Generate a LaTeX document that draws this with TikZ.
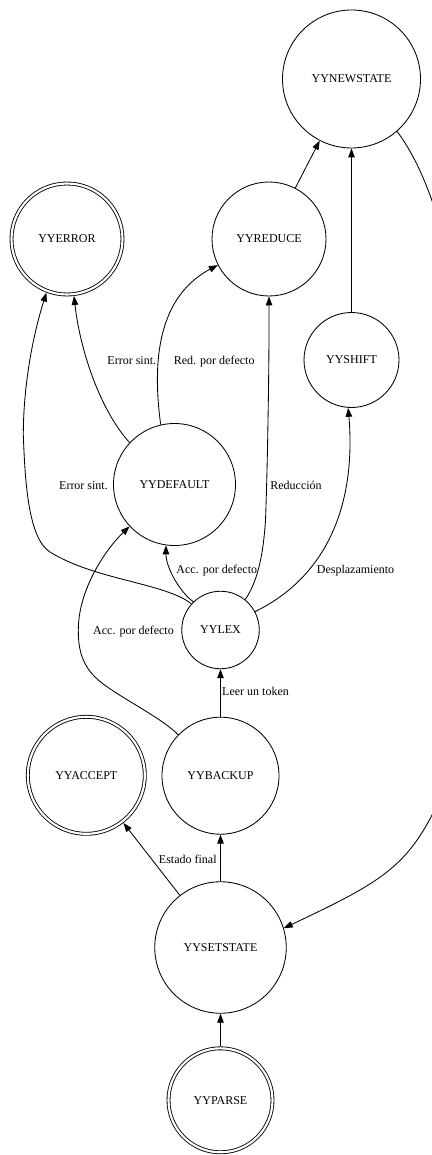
\documentclass[tikz,border=0pt]{standalone}
\usepackage{fontspec}
\setmainfont{Liberation Serif}
\usetikzlibrary{arrows.meta}
\begin{document}
\begin{tikzpicture}[x=1pt,y=-1pt,
  every node/.style={font=\fontsize{12}{14}\selectfont},
  state/.style={circle, draw, line width=0.85pt, inner sep=0pt},
  final/.style={state, double, double distance=2.15pt, outer sep=1.9pt},
  edge/.style={line width=0.85pt, -{Triangle[length=9pt,width=6.5pt]}},
  lbl/.style={anchor=base, inner sep=0pt}]

\path[use as bounding box] (0,0) rectangle (431,1155);

% states
\node[state, minimum size=138pt] (nws) at (351.5,79) {YYNEWSTATE};
\node[final, minimum size=111pt] (err) at (67,239) {YYERROR};
\node[state, minimum size=114pt] (red) at (269,239) {YYREDUCE};
\node[state, minimum size=95pt]  (shf) at (351.5,360) {YYSHIFT};
\node[state, minimum size=122pt] (def) at (174.5,484.5) {YYDEFAULT};
\node[state, minimum size=77.5pt] (lex) at (220.5,630) {YYLEX};
\node[state, minimum size=117pt] (bak) at (220.5,775.7) {YYBACKUP};
\node[final, minimum size=117pt] (acc) at (86.3,775.3) {YYACCEPT};
\node[state, minimum size=131.5pt] (set) at (220.5,947.5) {YYSETSTATE};
\node[final, minimum size=104pt] (prs) at (220.5,1100.3) {YYPARSE};

% straight transitions
\draw[edge] (prs) -- (set);
\draw[edge] (set) -- (bak);
\draw[edge] (set) -- (acc);
\draw[edge] (bak) -- (lex);
\draw[edge] (shf) -- (nws);
\draw[edge] (red) -- (nws);

% curved transitions
\draw[edge] (lex.134) .. controls (180,592) and (166,568) .. (def.262);
\draw[edge] (lex.138) .. controls (165,583) and (95,580) .. (50,552)
  .. controls (28,538.3) and (25,480) .. (23.3,435)
  .. controls (23.3,385) and (33,335) .. (err.249.5);
\draw[edge] (bak.136) .. controls (160,716) and (112,694) .. (95,677)
  .. controls (80,662) and (78.3,645) .. (78.3,630)
  .. controls (78.3,590) and (105,550) .. (def.223.5);
\draw[edge] (def.137.4) .. controls (100,410) and (80,350) .. (err.277);
\draw[edge] (def.103.5) .. controls (154,375) and (152,300) .. (red.207);
\draw[edge] (lex.51) .. controls (256,584) and (263,560) .. (265.5,520)
  .. controls (267.5,470) and (269.3,360) .. (red.270);
\draw[edge] (lex.28) .. controls (330,575) and (356,500) .. (shf.266);
\draw[edge] (nws.311.8) .. controls (445,195) and (470,330) .. (470,480)
  .. controls (470,650) and (459,764) .. (431,817)
  .. controls (403,870) and (373.7,885.6) .. (set.17);

% transition labels
\node[lbl] (l1) at (131.8,364) {Error sint.};
\node[lbl] (l2) at (214.2,364) {Red. por defecto};
\node[lbl] (l3) at (83.5,489) {Error sint.};
\node[lbl] (l4) at (296,489) {Reducción};
\node[lbl] (l5) at (216.8,573.3) {Acc. por defecto};
\node[lbl] (l6) at (355.5,573.3) {Desplazamiento};
\node[lbl] (l7) at (133.5,634.7) {Acc. por defecto};
\node[lbl] (l8) at (255.5,695.7) {Leer un token};
\node[lbl] (l9) at (187.8,863) {Estado final};
\end{tikzpicture}
\end{document}
